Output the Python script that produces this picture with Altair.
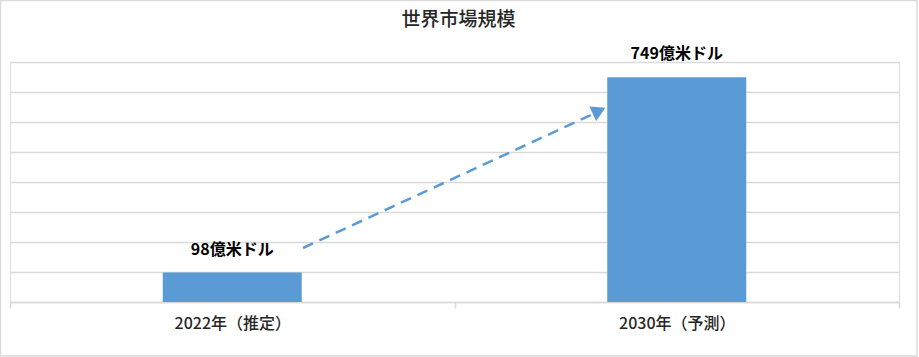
import altair as alt
import pandas as pd

categories = ["2022年（推定）", "2030年（予測）"]
values = [98, 749]
unit = "億米ドル"
title_text = "世界市場規模"
y_ticks = [0, 100, 200, 300, 400, 500, 600, 700, 800]
arrow_y = [180, 625]      # arrow start / end in data units
arrow_head_y = [634]

BLUE = "#5B9BD5"
GRID = "#D9D9D9"
FONT = "Noto Sans CJK JP"

df = pd.DataFrame({
    "cat": categories,
    "val": values,
    "label": [f"{v}{unit}" for v in values],
})

W, H = 889, 240

x_enc = alt.X("cat:N", sort=categories,
              scale=alt.Scale(paddingInner=0, paddingOuter=0),
              axis=alt.Axis(title=None, labelAngle=0, tickBand="extent",
                            domainColor=GRID, domainWidth=1.5,
                            tickColor=GRID, tickWidth=1.5, tickSize=6,
                            labelFontSize=16, labelFont=FONT, labelColor="#262626",
                            labelFontWeight=500, labelPadding=7, grid=False))
y_scale = alt.Scale(domain=[0, 800], nice=False)
y_axis = alt.Axis(title=None, labels=False, ticks=False, domain=False,
                  values=y_ticks, grid=True, gridColor=GRID, gridWidth=1.5)
y_enc = alt.Y("val:Q", scale=y_scale, axis=y_axis)

base = alt.Chart(df)

bars = base.mark_bar(color=BLUE, width=139).encode(x=x_enc, y=y_enc)

labels = base.mark_text(dy=-23, fontSize=16, fontWeight="bold", font=FONT,
                        color="#000000").encode(x=x_enc, y=y_enc, text="label:N")

one = pd.DataFrame({"t": [title_text]})

arrow_line = alt.Chart(one).mark_rule(
    color=BLUE, strokeWidth=2.5, strokeDash=[11, 7]).encode(
    x=alt.value(293), x2=alt.value(582),
    y=alt.YDatum(arrow_y[0], scale=y_scale, axis=y_axis),
    y2=alt.Y2Datum(arrow_y[1]))

arrow_head = alt.Chart(one).mark_point(
    shape="triangle", filled=True, color=BLUE, opacity=1, size=260, angle=65).encode(
    x=alt.value(587), y=alt.YDatum(arrow_head_y[0], scale=y_scale, axis=y_axis))

border = alt.Chart(one).mark_rect(
    fill=None, stroke=GRID, strokeWidth=1.5, clip=False).encode(
    x=alt.value(-9.5), x2=alt.value(907), y=alt.value(-61.5), y2=alt.value(294))

title_mark = alt.Chart(one).mark_text(
    fontSize=19, font=FONT, fontWeight=500, color="#262626",
    align="center", baseline="middle").encode(
    x=alt.value(W / 2 + 4), y=alt.value(-42), text="t:N")

chart = alt.layer(bars, border, labels, arrow_line, arrow_head, title_mark).properties(
    width=W, height=H,
    padding={"left": 10, "top": 62, "right": 20, "bottom": 55},
    autosize=alt.AutoSizeParams(type="none"),
).configure_view(stroke=None).configure(background="white")

chart.save("out.html", embed_options={"renderer": "svg", "actions": False})
